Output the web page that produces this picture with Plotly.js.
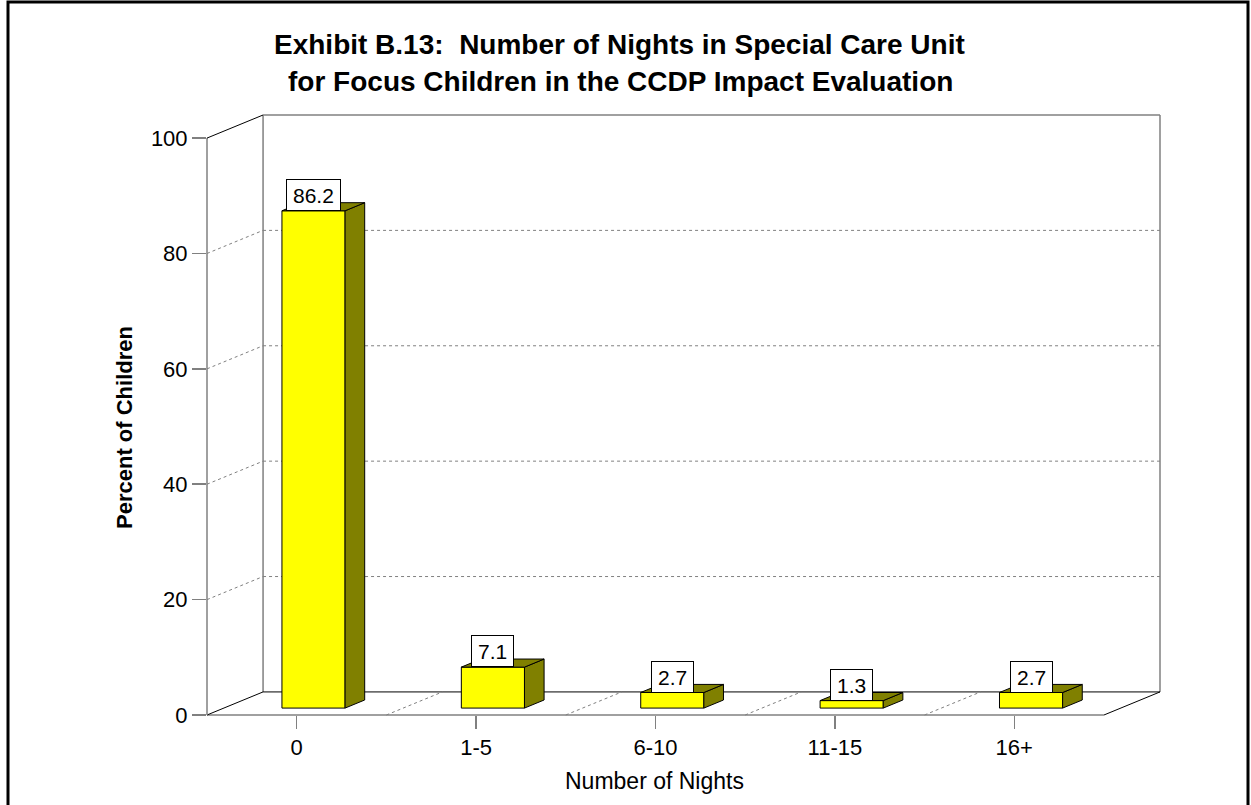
<!DOCTYPE html>
<html>
<head>
<meta charset="utf-8">
<script src="https://cdn.plot.ly/plotly-3.0.1.min.js"></script>
<style>
  html, body { margin: 0; padding: 0; background: #fff; }
  #chart { width: 1251px; height: 805px; }
</style>
</head>
<body>
<div id="chart"></div>
<script>
// ---- data ----
const categories = ['0', '1-5', '6-10', '11-15', '16+'];
const percents = [86.2, 7.1, 2.7, 1.3, 2.7];
const labels = ['86.2', '7.1', '2.7', '1.3', '2.7'];
const yTickVals = [0, 20, 40, 60, 80, 100];
const gridVals = [20, 40, 60, 80];

// ---- 3D geometry (in axis units) ----
const DX = 0.3125;   // depth offset along x (category units)
const DY = 4;        // depth offset along y (value units)
const F0 = 0.30;     // depth position of bar front face
const FD = 0.35;     // bar depth fraction
const BW = 0.352;    // bar width
const XMIN = -0.5, XMAX = categories.length - 0.5 + DX;
const YMAX = 104;

const idx = categories.map((c, i) => i);
const base = F0 * DY;
const xc = idx.map(i => i + F0 * DX);
const ddx = FD * DX, ddy = FD * DY;

const sideX = [], sideY = [], topX = [], topY = [];
idx.forEach(i => {
  const x0 = xc[i] - BW / 2, x1 = xc[i] + BW / 2, v = percents[i];
  const t = base + v;
  sideX.push(x1, x1 + ddx, x1 + ddx, x1, x1, null);
  sideY.push(base, base + ddy, t + ddy, t, base, null);
  topX.push(x0, x1, x1 + ddx, x0 + ddx, x0, null);
  topY.push(t, t, t + ddy, t + ddy, t, null);
});

const YELLOW = '#FFFF00', OLIVE = '#808000', GRAY = '#808080';

const traces = [
  {
    type: 'bar', x: xc, y: percents, base: base, width: BW,
    marker: { color: YELLOW, line: { color: '#000', width: 1 } },
    hoverinfo: 'skip', showlegend: false
  },
  {
    type: 'scatter', mode: 'lines', x: sideX, y: sideY, fill: 'toself',
    fillcolor: OLIVE, line: { color: '#000', width: 1 },
    hoverinfo: 'skip', showlegend: false
  },
  {
    type: 'scatter', mode: 'lines', x: topX, y: topY, fill: 'toself',
    fillcolor: OLIVE, line: { color: '#000', width: 1 },
    hoverinfo: 'skip', showlegend: false
  }
];

// paper-coordinate helpers (unclipped shapes)
const px = x => (x - XMIN) / (XMAX - XMIN);
const py = y => y / YMAX;
function seg(x0, y0, x1, y1, color, width, dash) {
  return { type: 'line', xref: 'paper', yref: 'paper', layer: 'below',
    x0: px(x0), y0: py(y0), x1: px(x1), y1: py(y1),
    line: { color: color, width: width, dash: dash || 'solid' } };
}
const xFrontR = categories.length - 0.5;
const shapes = [];
// back wall
shapes.push(seg(XMIN + DX, DY, XMIN + DX, 100 + DY, GRAY, 1.5));
shapes.push(seg(XMIN + DX, 100 + DY, XMAX, 100 + DY, GRAY, 1.5));
shapes.push(seg(XMAX, DY, XMAX, 100 + DY, GRAY, 1.5));
// floor
shapes.push(seg(XMIN + DX, DY, XMAX, DY, '#000', 1));
shapes.push(seg(XMIN, 0, xFrontR, 0, GRAY, 1.5));
shapes.push(seg(XMIN, 0, XMIN + DX, DY, '#000', 1));
shapes.push(seg(xFrontR, 0, XMAX, DY, '#000', 1));
// left wall
shapes.push(seg(XMIN, 0, XMIN, 100, GRAY, 1.5));
shapes.push(seg(XMIN, 100, XMIN + DX, 100 + DY, '#000', 1));
// gridlines (dotted)
gridVals.forEach(v => {
  shapes.push(seg(XMIN + DX, v + DY, XMAX, v + DY, GRAY, 1, 'dot'));
  shapes.push(seg(XMIN, v, XMIN + DX, v + DY, GRAY, 1, 'dot'));
});
// floor dividers (dotted)
for (let k = 1; k < categories.length; k++) {
  const xb = XMIN + k;
  shapes.push(seg(xb, 0, xb + DX, DY, GRAY, 1, 'dot'));
}
// outer frame
const W = 1251, H = 805, L = 207, R = 91, T = 115, B = 90;
const pw = W - L - R, ph = H - T - B;
const fx = p => (p - L) / pw, fy = p => (H - B - p) / ph;
shapes.push({ type: 'rect', xref: 'paper', yref: 'paper', layer: 'above',
  x0: fx(8), x1: fx(1248), y0: fy(2), y1: fy(815),
  line: { color: '#000', width: 3 }, fillcolor: 'rgba(0,0,0,0)' });

const FONT = 'Liberation Sans, Arial, sans-serif';
const annotations = idx.map(i => ({
  xref: 'x', yref: 'y', x: xc[i], y: base + percents[i],
  xanchor: 'center', yanchor: 'bottom', showarrow: false,
  text: labels[i], font: { family: FONT, size: 21, color: '#000' },
  bgcolor: '#fff', bordercolor: '#000', borderwidth: 1, borderpad: 6, height: 18
}));
annotations.push(
  { xref: 'paper', yref: 'paper', x: fx(619), y: fy(45), xanchor: 'center', yanchor: 'middle',
    showarrow: false, text: '<b>Exhibit B.13:  Number of Nights in Special Care Unit</b>',
    font: { family: FONT, size: 28, color: '#000' } },
  { xref: 'paper', yref: 'paper', x: fx(620), y: fy(81), xanchor: 'center', yanchor: 'middle',
    showarrow: false, text: '<b>for Focus Children in the CCDP Impact Evaluation</b>',
    font: { family: FONT, size: 28, color: '#000' } },
  { xref: 'paper', yref: 'paper', x: fx(124), y: fy(428), xanchor: 'center', yanchor: 'middle',
    showarrow: false, textangle: -90, text: '<b>Percent of Children</b>',
    font: { family: FONT, size: 22, color: '#000' } },
  { xref: 'paper', yref: 'paper', x: fx(654), y: fy(781), xanchor: 'center', yanchor: 'middle',
    showarrow: false, text: 'Number of Nights',
    font: { family: FONT, size: 23, color: '#000' } }
);

const layout = {
  width: W, height: H,
  margin: { l: L, r: R, t: T, b: B, pad: 0 },
  paper_bgcolor: '#fff', plot_bgcolor: 'rgba(0,0,0,0)',
  showlegend: false,
  xaxis: {
    range: [XMIN, XMAX], tickmode: 'array', tickvals: idx, ticktext: categories,
    ticks: 'outside', ticklen: 13, tickwidth: 1.5, tickcolor: GRAY,
    showgrid: false, zeroline: false, showline: false, fixedrange: true,
    tickfont: { family: FONT, size: 22, color: '#000' }
  },
  yaxis: {
    range: [0, YMAX], tickmode: 'array', tickvals: yTickVals,
    ticks: 'outside', ticklen: 14, tickwidth: 1.5, tickcolor: GRAY,
    showgrid: false, zeroline: false, showline: false, fixedrange: true,
    tickfont: { family: FONT, size: 22, color: '#000' }
  },
  shapes: shapes,
  annotations: annotations,
  bargap: 0
};

Plotly.newPlot('chart', traces, layout, { displayModeBar: false, staticPlot: true });
</script>
</body>
</html>
